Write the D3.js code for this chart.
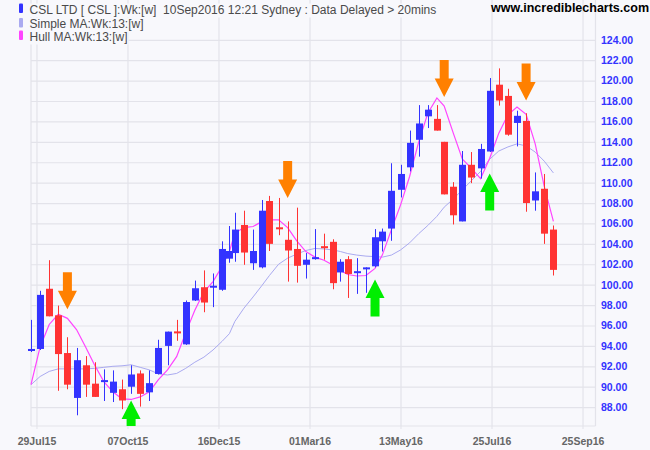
<!DOCTYPE html>
<html>
<head>
<meta charset="utf-8">
<script src="https://cdn.jsdelivr.net/npm/d3@7"></script>
<style>
  html, body { margin: 0; padding: 0; background: #f8f8fc; }
  svg { display: block; }
  text { font-family: "Liberation Sans", Arial, sans-serif; }
</style>
</head>
<body>
<svg id="chart" width="650" height="450"></svg>
<script>
// ---------------- DATA ----------------
const dates = [
  "2015-07-24","2015-07-31","2015-08-07","2015-08-14","2015-08-21","2015-08-28","2015-09-04","2015-09-11",
  "2015-09-18","2015-09-25","2015-10-02","2015-10-09","2015-10-16","2015-10-23","2015-10-30","2015-11-06",
  "2015-11-13","2015-11-20","2015-11-27","2015-12-04","2015-12-11","2015-12-18","2015-12-24","2015-12-31",
  "2016-01-08","2016-01-15","2016-01-22","2016-01-29","2016-02-05","2016-02-12","2016-02-19","2016-02-26",
  "2016-03-04","2016-03-11","2016-03-18","2016-03-24","2016-04-01","2016-04-08","2016-04-15","2016-04-22",
  "2016-04-29","2016-05-06","2016-05-13","2016-05-20","2016-05-27","2016-06-03","2016-06-10","2016-06-17",
  "2016-06-24","2016-07-01","2016-07-08","2016-07-15","2016-07-22","2016-07-29","2016-08-05","2016-08-12",
  "2016-08-19","2016-08-26","2016-09-02","2016-09-09"
];
const opens = [93.5,93.7,99.6,97.0,93.3,88.9,92.1,90.3,90.5,89.4,
  89.75,90.0,91.3,89.45,91.25,94.0,95.4,94.15,98.45,99.75,
  99.75,99.5,102.55,103.1,105.85,102.1,101.7,108.2,105.6,104.4,
  103.5,101.95,102.55,103.75,104.2,101.2,102.5,101.15,101.55,101.8,
  104.25,105.5,109.3,111.5,114.2,116.5,116.25,114.0,109.6,106.2,
  111.75,111.4,113.05,119.6,118.5,115.85,116.05,108.25,109.4,105.4];
const highs = [96.55,99.4,102.4,97.95,94.85,93.8,93.0,92.4,91.7,91.6,
  90.7,92.1,91.6,91.6,94.6,95.4,96.55,98.45,100.4,101.4,
  101.1,104.25,105.75,107.05,107.25,105.4,108.3,108.7,108.5,106.2,
  107.55,103.1,105.45,105.0,104.45,102.5,102.8,102.6,101.7,105.45,
  105.5,111.9,111.75,115.1,117.6,117.6,117.6,114.0,110.05,113.1,
  113.0,113.8,120.25,121.2,119.2,117.05,116.8,111.0,110.85,105.8];
const lows = [93.4,93.6,96.9,89.6,89.75,87.2,89.0,89.0,88.6,88.5,
  87.8,89.3,88.05,88.6,91.2,92.1,94.5,94.1,98.4,97.3,
  97.8,99.4,102.15,102.25,101.95,101.45,101.6,103.3,104.85,100.3,
  100.2,100.6,102.45,102.45,99.55,100.3,98.7,99.1,99.2,101.7,
  103.25,104.3,108.55,111.1,112.55,115.35,115.1,108.85,105.9,106.2,
  109.95,110.4,113.0,117.55,114.6,113.55,107.15,107.25,104.0,100.9];
const closes = [93.7,99.0,96.9,93.2,90.2,92.6,90.2,89.0,90.6,90.5,
  88.65,91.2,89.3,90.35,93.8,95.4,95.25,98.3,99.65,98.25,
  99.85,103.5,103.3,105.4,103.15,103.3,107.25,104.0,105.45,103.35,
  101.85,102.45,102.65,103.6,100.15,102.25,101.05,101.3,101.65,104.65,
  105.2,109.2,110.85,113.9,115.8,117.15,115.1,108.85,106.8,111.75,
  110.5,113.3,119.0,118.05,114.7,116.55,108.0,109.15,105.0,101.45];
const sma13 = [90.2,91.0,91.5,91.75,91.75,91.75,91.75,91.8,91.9,92.0,
  92.05,92.15,91.9,91.65,91.25,91.15,91.3,91.8,92.4,92.9,
  93.6,94.45,95.2,96.4,97.7,98.8,99.95,100.9,102.0,102.6,
  103.0,103.35,103.55,103.5,103.4,103.25,103.05,102.9,102.8,102.75,
  102.7,102.9,103.4,104.1,105.0,105.8,106.7,107.6,108.4,109.3,
  110.2,111.1,112.3,113.1,113.5,113.8,113.6,113.0,112.1,110.95];
const hull13 = [90.2,93.9,96.1,97.1,96.7,95.6,93.9,92.1,90.5,89.5,
  88.8,88.75,89.0,89.5,90.7,91.65,92.95,95.3,97.5,99.3,
  100.3,101.8,103.25,105.05,105.6,105.7,106.2,106.35,106.35,105.6,
  104.3,103.25,102.7,102.4,101.9,101.4,101.0,100.85,100.9,101.6,
  102.9,105.4,107.8,110.6,114.0,116.8,118.3,117.5,114.85,112.3,
  111.4,110.4,112.4,114.85,116.65,117.4,116.7,113.8,109.6,106.2];
const holidays = ["2015-12-25","2015-12-28","2016-01-01","2016-01-26",
  "2016-03-25","2016-03-28","2016-04-25","2016-06-13"];
const xTickDays = [0,50,100,150,200,250,300];
const xTickLabels = ["29Jul15","07Oct15","16Dec15","01Mar16","13May16","25Jul16","25Sep16"];
const yTicks = [88,90,92,94,96,98,100,102,104,106,108,110,112,114,116,118,120,122,124];
const sellBars = [5,30,48,57];
const sellTips = [97.6,108.5,118.4,118.05];
const buyBars = [12,40,53];
const buyTips = [88.65,100.5,110.9];
const headerText = "CSL LTD [ CSL ]:Wk:[w]  10Sep2016 12:21 Sydney : Data Delayed > 20mins";
const legendItems = ["Simple MA:Wk:13:[w]","Hull MA:Wk:13:[w]"];
const siteText = "www.incrediblecharts.com";

// ---------------- LAYOUT ----------------
const W = 650, H = 450;
const L = 31, R = 595.5, T = 0, B = 426;
const C = {bg:"#f8f8fc", grid:"#e3e3ea", up:"#3333ff", down:"#ff3333",
  sma:"#aaaaf0", hull:"#ff44ff", sell:"#ff8000", buy:"#00ee00",
  ylab:"#3333ff", xlab:"#666666", text:"#4a4a4a"};

// trading-day calendar (weekdays without exchange holidays)
const holiSet = new Set(holidays);
const DAY = 86400000;
const baseT = Date.UTC(2015,6,29);
function isTrading(t){
  const d = new Date(t); const wd = d.getUTCDay();
  return wd>0 && wd<6 && !holiSet.has(d.toISOString().slice(0,10));
}
function tdOffset(s){
  const [y,m,d] = s.split("-").map(Number);
  const t = Date.UTC(y,m-1,d);
  let n = 0;
  if (t >= baseT) { for (let u = baseT+DAY; u <= t; u += DAY) if (isTrading(u)) n++; }
  else { for (let u = t+DAY; u <= baseT; u += DAY) if (isTrading(u)) n--; }
  return n;
}

const bars = dates.map((d,i)=>({i, td: tdOffset(d), o: opens[i], h: highs[i], l: lows[i], c: closes[i], sma: sma13[i], hull: hull13[i]}));

const x = d3.scaleLinear().domain([-3, 307.4]).range([L, 596]);
const y = d3.scaleLinear().domain([86.15, 127.9]).range([B, 0]);

const svg = d3.select("#chart");
svg.append("rect").attr("width",W).attr("height",H).attr("fill",C.bg);

// gridlines
const gx = svg.append("g").attr("transform",`translate(0,${B})`)
  .call(d3.axisBottom(x).tickValues(xTickDays).tickSize(-(B-T)).tickFormat(""));
gx.selectAll("line").attr("stroke",C.grid).attr("stroke-width",1.2);
gx.select(".domain").remove();
const gy = svg.append("g").attr("transform",`translate(${L},0)`)
  .call(d3.axisLeft(y).tickValues(yTicks).tickSize(-(R-L)).tickFormat(""));
gy.selectAll("line").attr("stroke",C.grid).attr("stroke-width",1.2);
gy.select(".domain").remove();

// frame
svg.append("line").attr("x1",L).attr("x2",L).attr("y1",T).attr("y2",B).attr("stroke",C.grid).attr("stroke-width",1.2);
svg.append("line").attr("x1",R).attr("x2",R).attr("y1",T).attr("y2",B).attr("stroke",C.grid).attr("stroke-width",1.2);
svg.append("line").attr("x1",L).attr("x2",R).attr("y1",B).attr("y2",B).attr("stroke",C.grid).attr("stroke-width",1.2);

// axes labels
const ax = svg.append("g").attr("transform",`translate(0,${B})`)
  .call(d3.axisBottom(x).tickValues(xTickDays).tickSize(3).tickPadding(9)
    .tickFormat((d,i)=>xTickLabels[i]));
ax.select(".domain").remove();
ax.selectAll("line").attr("stroke",C.grid);
ax.selectAll("text").attr("fill",C.xlab).attr("font-size","10.5px").attr("font-weight","bold")
  .attr("font-family","'Liberation Sans', Arial, sans-serif");

const ay = svg.append("g").attr("transform",`translate(${R},0)`)
  .call(d3.axisRight(y).tickValues(yTicks).tickSize(0).tickPadding(5.5).tickFormat(d3.format(".2f")));
ay.select(".domain").remove();
ay.selectAll("text").attr("fill",C.ylab).attr("font-size","10.5px").attr("font-weight","bold")
  .attr("font-family","'Liberation Sans', Arial, sans-serif");

// clip
svg.append("clipPath").attr("id","plotclip").append("rect")
  .attr("x",0).attr("y",T).attr("width",R).attr("height",B-T);
const plot = svg.append("g").attr("clip-path","url(#plotclip)");

// MA lines
plot.append("path").datum(bars)
  .attr("d", d3.line().x(d=>x(d.td)).y(d=>y(d.sma)))
  .attr("fill","none").attr("stroke",C.sma).attr("stroke-width",1);
plot.append("path").datum(bars)
  .attr("d", d3.line().x(d=>x(d.td)).y(d=>y(d.hull)))
  .attr("fill","none").attr("stroke",C.hull).attr("stroke-width",1.2);

// candles
const bw = 7;
const cg = plot.append("g").selectAll("g").data(bars).join("g");
cg.append("line")
  .attr("x1",d=>Math.round(x(d.td))+0.5).attr("x2",d=>Math.round(x(d.td))+0.5)
  .attr("y1",d=>y(d.h)).attr("y2",d=>y(d.l))
  .attr("stroke",d=>d.c>=d.o?C.up:C.down).attr("stroke-width",1);
cg.append("rect")
  .attr("x",d=>Math.round(x(d.td))+0.5-bw/2)
  .attr("width",bw)
  .attr("y",d=>{const t=y(Math.max(d.o,d.c)), b=y(Math.min(d.o,d.c)); return (b-t<2)?(t+b)/2-1:t;})
  .attr("height",d=>Math.max(2, y(Math.min(d.o,d.c))-y(Math.max(d.o,d.c))))
  .attr("fill",d=>d.c>=d.o?C.up:C.down);

// signal arrows
const shaftW = 9, headW = 19, headH = 18.5, shaftH = 18.5;
function arrowPath(cx, ty, dir){ // dir = 1 down-pointing, -1 up-pointing
  const s = -dir;
  const hb = ty + s*headH, se = hb + s*shaftH;
  return `M${cx},${ty} L${cx-headW/2},${hb} L${cx-shaftW/2},${hb} L${cx-shaftW/2},${se} L${cx+shaftW/2},${se} L${cx+shaftW/2},${hb} L${cx+headW/2},${hb} Z`;
}
plot.append("g").selectAll("path").data(sellBars.map((b,k)=>({b, tip: sellTips[k]}))).join("path")
  .attr("d",d=>arrowPath(x(bars[d.b-1].td), y(d.tip), 1)).attr("fill",C.sell);
plot.append("g").selectAll("path").data(buyBars.map((b,k)=>({b, tip: buyTips[k]}))).join("path")
  .attr("d",d=>arrowPath(x(bars[d.b-1].td), y(d.tip), -1)).attr("fill",C.buy);

// header / legend
const legColors = [C.up, C.sma, C.hull];
const legTexts = [headerText].concat(legendItems);
const legBase = [13.5, 28, 40.5];
const lg = svg.append("g");
legTexts.forEach((t,k)=>{
  const g = lg.append("g");
  const bgRect = g.append("rect").attr("fill",C.bg);
  const tx = g.append("text").attr("x",29.5).attr("y",legBase[k]).attr("font-size","12px")
    .attr("fill",C.text).style("white-space","pre").text(t);
  const bb = tx.node().getBBox();
  bgRect.attr("x",17).attr("y",bb.y+1).attr("width",bb.x+bb.width-17+1).attr("height",bb.height);
  g.append("rect").attr("x",19).attr("y",legBase[k]-10).attr("width",4).attr("height",9.5)
    .attr("rx",1).attr("fill",legColors[k]);
});
svg.append("text").attr("x",649).attr("y",11.5).attr("text-anchor","end")
  .attr("font-size","12.5px").attr("font-weight","bold").attr("fill","#000").text(siteText);
</script>
</body>
</html>
